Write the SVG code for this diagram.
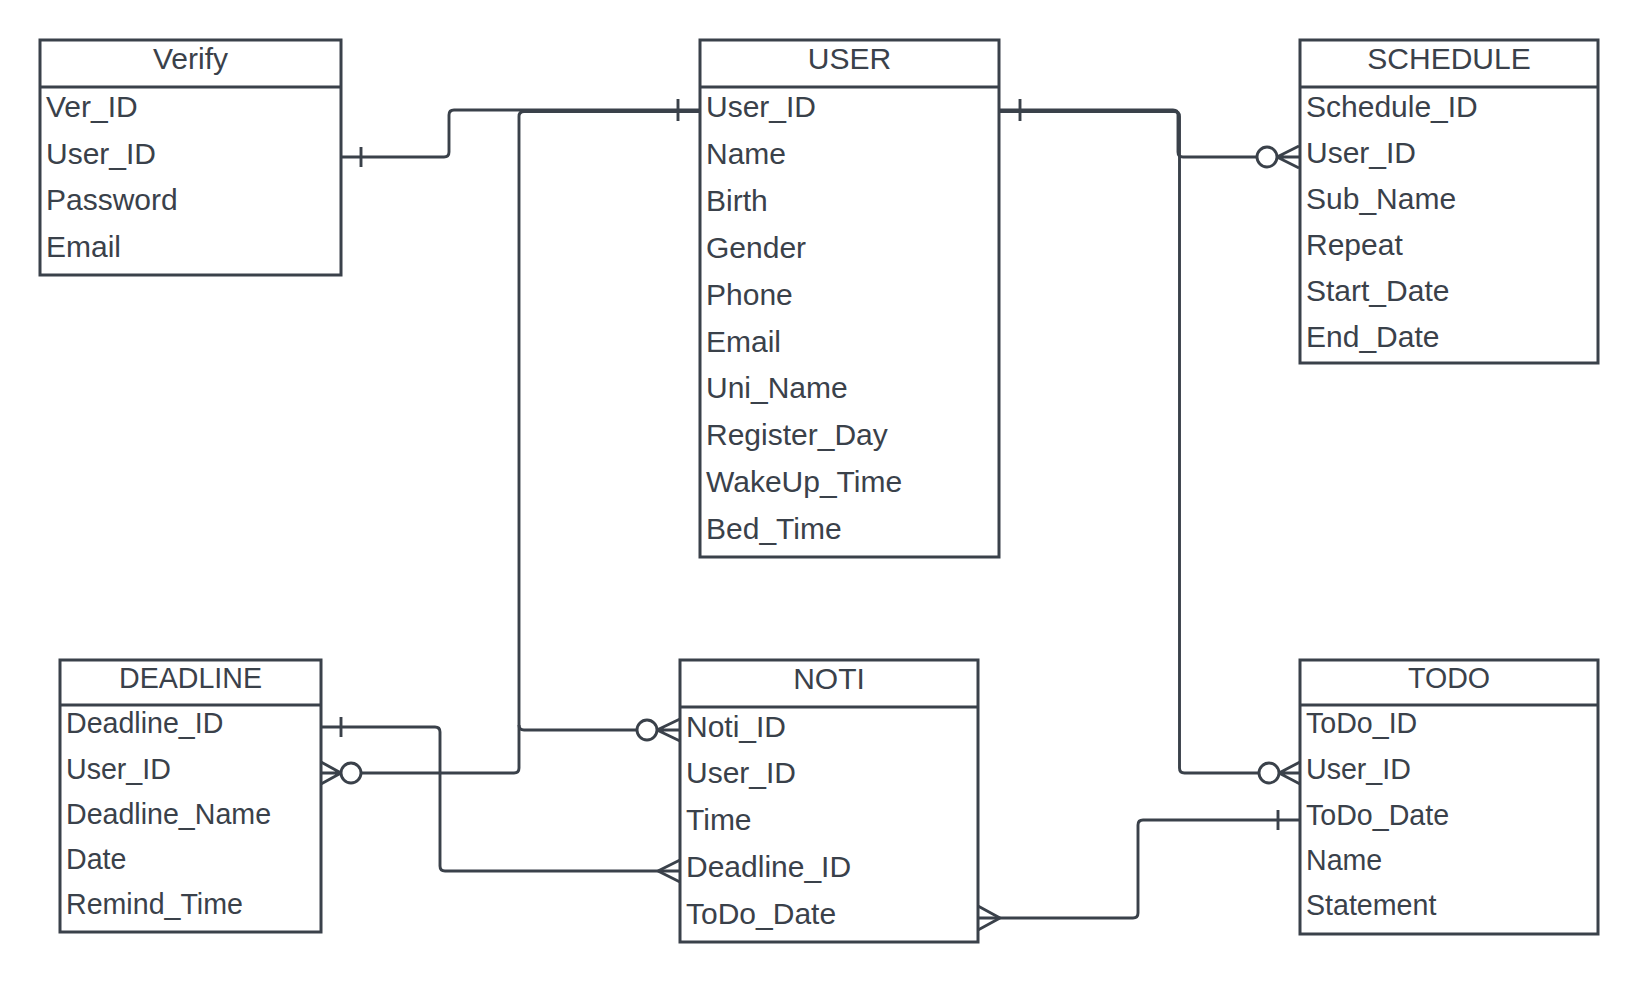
<svg xmlns="http://www.w3.org/2000/svg" width="1639" height="982" viewBox="0 0 1639 982">
<style>
.box{fill:#fff;stroke:#3a414a;stroke-width:3}
.hl{stroke:#3a414a;stroke-width:3}
.t{font-family:"Liberation Sans",Arial,sans-serif;fill:#3a414a;font-size:30px}
.s{font-size:28.6px}
.c{text-anchor:middle}
.ln{fill:none;stroke:#3a414a;stroke-width:2.9;stroke-linejoin:round}
.o{fill:#fff;stroke:#3a414a;stroke-width:2.9}
</style>
<rect width="1639" height="982" fill="#fff"/>
<g id="connectors">
<path class="ln" d="M341,157 H444 Q449,157 449,152 V115 Q449,110 454,110 H700"/>
<path class="ln" d="M361,147 V167 M678,99 V121"/>
<path class="ln" d="M700,111.5 H524 Q519,111.5 519,116.5 V768 Q519,773 514,773 H361"/>
<circle class="o" cx="351" cy="773" r="10"/>
<path class="ln" d="M341,773 L321,762 M341,773 L321,784 M341,773 H321"/>
<path class="ln" d="M519,725 Q519,730 524,730 H637"/>
<circle class="o" cx="647" cy="730" r="10"/>
<path class="ln" d="M657,730 L680,719 M657,730 L680,741 M657,730 H680"/>
<path class="ln" d="M999,110 H1173 Q1178,110 1178,115 V152 Q1178,157 1183,157 H1257"/>
<circle class="o" cx="1267" cy="157" r="10"/>
<path class="ln" d="M1277,157 L1299,146 M1277,157 L1299,168 M1277,157 H1299"/>
<path class="ln" d="M1020,99 V121"/>
<path class="ln" d="M999,111.5 H1174 Q1179.5,111.5 1179.5,116.5 V768 Q1179.5,773 1184.5,773 H1259"/>
<circle class="o" cx="1269" cy="773" r="10"/>
<path class="ln" d="M1279,773 L1300,762 M1279,773 L1300,784 M1279,773 H1300"/>
<path class="ln" d="M321,727 H435 Q440,727 440,732 V866 Q440,871 445,871 H680"/>
<path class="ln" d="M341,717 V737"/>
<path class="ln" d="M658,871 L680,860 M658,871 L680,882"/>
<path class="ln" d="M978,918 H1133 Q1138,918 1138,913 V825 Q1138,820 1143,820 H1300"/>
<path class="ln" d="M1000,918 L978,906 M1000,918 L978,930"/>
<path class="ln" d="M1278,810 V830"/>
</g>
<g id="verify">
<rect class="box" x="40" y="40" width="301" height="235"/>
<line class="hl" x1="40" y1="87" x2="341" y2="87"/>
<text class="t c" x="190.5" y="69">Verify</text>
<text class="t" x="46" y="117">Ver_ID</text>
<text class="t" x="46" y="163.5">User_ID</text>
<text class="t" x="46" y="210">Password</text>
<text class="t" x="46" y="256.5">Email</text>
</g>
<g id="user">
<rect class="box" x="700" y="40" width="299" height="517"/>
<line class="hl" x1="700" y1="87" x2="999" y2="87"/>
<text class="t c" x="849.5" y="69">USER</text>
<text class="t" x="706" y="117">User_ID</text>
<text class="t" x="706" y="163.9">Name</text>
<text class="t" x="706" y="210.8">Birth</text>
<text class="t" x="706" y="257.7">Gender</text>
<text class="t" x="706" y="304.6">Phone</text>
<text class="t" x="706" y="351.5">Email</text>
<text class="t" x="706" y="398.4">Uni_Name</text>
<text class="t" x="706" y="445.3">Register_Day</text>
<text class="t" x="706" y="492.2">WakeUp_Time</text>
<text class="t" x="706" y="539.1">Bed_Time</text>
</g>
<g id="schedule">
<rect class="box" x="1300" y="40" width="298" height="323"/>
<line class="hl" x1="1300" y1="87" x2="1598" y2="87"/>
<text class="t c" x="1449" y="69">SCHEDULE</text>
<text class="t" x="1306" y="116.7">Schedule_ID</text>
<text class="t" x="1306" y="162.8">User_ID</text>
<text class="t" x="1306" y="208.9">Sub_Name</text>
<text class="t" x="1306" y="255">Repeat</text>
<text class="t" x="1306" y="301.1">Start_Date</text>
<text class="t" x="1306" y="347.2">End_Date</text>
</g>
<g id="deadline">
<rect class="box" x="60" y="660" width="261" height="272"/>
<line class="hl" x1="60" y1="705" x2="321" y2="705"/>
<text class="t s c" x="190.5" y="688">DEADLINE</text>
<text class="t s" x="66" y="733">Deadline_ID</text>
<text class="t s" x="66" y="778.5">User_ID</text>
<text class="t s" x="66" y="824">Deadline_Name</text>
<text class="t s" x="66" y="869">Date</text>
<text class="t s" x="66" y="914">Remind_Time</text>
</g>
<g id="noti">
<rect class="box" x="680" y="660" width="298" height="282"/>
<line class="hl" x1="680" y1="707" x2="978" y2="707"/>
<text class="t c" x="829" y="689">NOTI</text>
<text class="t" x="686" y="736.7">Noti_ID</text>
<text class="t" x="686" y="783.4">User_ID</text>
<text class="t" x="686" y="830.1">Time</text>
<text class="t" x="686" y="876.8">Deadline_ID</text>
<text class="t" x="686" y="923.5">ToDo_Date</text>
</g>
<g id="todo">
<rect class="box" x="1300" y="660" width="298" height="274"/>
<line class="hl" x1="1300" y1="705" x2="1598" y2="705"/>
<text class="t s c" x="1449" y="688">TODO</text>
<text class="t s" x="1306" y="733">ToDo_ID</text>
<text class="t s" x="1306" y="779">User_ID</text>
<text class="t s" x="1306" y="825">ToDo_Date</text>
<text class="t s" x="1306" y="870">Name</text>
<text class="t s" x="1306" y="915">Statement</text>
</g>
</svg>
